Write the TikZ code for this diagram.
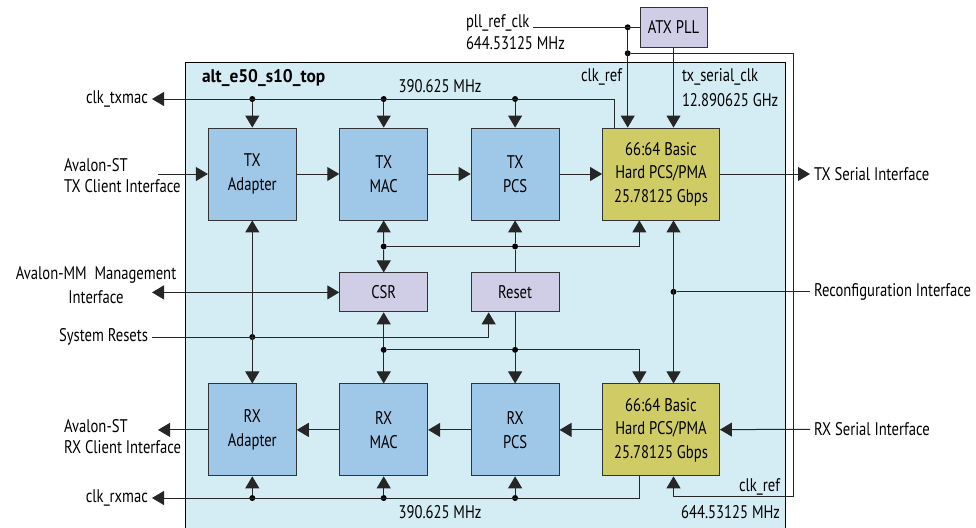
\documentclass[tikz,border=0pt]{standalone}
\usepackage{fontspec}
\setmainfont{PT Sans}[FakeStretch=0.8]
\newfontfamily\titlefont{PT Sans}[FakeStretch=0.95]
\usetikzlibrary{positioning,calc,arrows.meta}

\definecolor{topblue}{HTML}{D4ECF3}
\definecolor{blockblue}{HTML}{9FC7E8}
\definecolor{ctrllilac}{HTML}{D0CDE6}
\definecolor{pmayellow}{HTML}{CFCC66}

\tikzstyle{block} = [draw=black!80, line width=0.9pt, fill=blockblue,%
                     text centered, align=center, inner sep=0pt,%
                     minimum width=88pt, minimum height=92pt]
\tikzstyle{pma}   = [block, fill=pmayellow, minimum width=117pt]
\tikzstyle{ctrl}  = [block, fill=ctrllilac, minimum height=39pt]
\tikzstyle{sig}   = [inner sep=1pt, outer sep=3pt]
\tikzstyle{dot}   = [circle, fill=black, inner sep=0pt, minimum size=6pt]
\tikzstyle{wire}  = [draw=black!85, line width=1pt]

\begin{document}
\begin{tikzpicture}[x=1pt, y=-1pt, >={Triangle[length=12pt,width=14pt]},
    every node/.style={font=\fontsize{18.3}{23.5}\selectfont}]

	\useasboundingbox (0,0) rectangle (976,527);

	% top level
	\node (Top) [draw=black, line width=1pt, fill=topblue, minimum width=600pt, minimum height=478pt] at (485,301) {};
	\node (TopName) [sig, anchor=west, font=\titlefont\bfseries\fontsize{18.3}{23}\selectfont] at (198,78) {alt\_e50\_s10\_top};

	\node (TXAdapter) [block] at (252.3,174) {TX\\Adapter};
	\node (TXMAC) [block, right=42.5pt of TXAdapter] {TX\\MAC};
	\node (TXPCS) [block, right=42.5pt of TXMAC] {TX\\PCS};
	\node (TXPMA) [pma, right=42.5pt of TXPCS] {66:64 Basic\\Hard PCS/PMA\\25.78125 Gbps};

	\node (RXAdapter) [block, below=163pt of TXAdapter] {RX\\Adapter};
	\node (RXMAC) [block, below=163pt of TXMAC] {RX\\MAC};
	\node (RXPCS) [block, below=163pt of TXPCS] {RX\\PCS};
	\node (RXPMA) [pma, below=163pt of TXPMA] {66:64 Basic\\Hard PCS/PMA\\25.78125 Gbps};

	\node (CSR) [ctrl, below=52pt of TXMAC] {CSR};
	\node (Reset) [ctrl, below=52pt of TXPCS] {Reset};
	\node (ATXPLL) [ctrl, minimum width=67pt, minimum height=40pt] at (673.5,27.3) {ATX PLL};

	% signal names
	\node (PllRefClk) [sig, anchor=base west] at (462,27.3) {pll\_ref\_clk};
	\node (PllFreq) [sig, anchor=west] at (462,43) {644.53125 MHz};
	\node (ClkRefTop) [sig, anchor=east] at (626,77) {clk\_ref};
	\node (TxSerialClk) [sig, anchor=west] at (678,77) {tx\_serial\_clk};
	\node (TxSerialFreq) [sig, anchor=west] at (678,100) {12.890625 GHz};
	\node (ClkRefBot) [sig, anchor=east] at (784,487) {clk\_ref};
	\node (RefFreqBot) [sig, anchor=east] at (784,512) {644.53125 MHz};
	\node (FreqTx) [sig] at (440,86) {390.625 MHz};
	\node (FreqRx) [sig] at (440,512) {390.625 MHz};

	\node (clkTxmac) [sig, anchor=east] at (152,99) {clk\_txmac};
	\node (AvalonTX) [sig, anchor=west, align=left, font=\fontsize{18.3}{21}\selectfont] at (60,176) {Avalon-ST\\TX Client Interface};
	\node (AvalonMM) [sig, align=center, font=\fontsize{18.3}{24}\selectfont] at (96,285) {Avalon-MM\ \ Management\\Interface};
	\node (SysResets) [sig, anchor=east] at (152,337) {System Resets};
	\node (AvalonRX) [sig, anchor=west, align=left, font=\fontsize{18.3}{21}\selectfont] at (60,436.5) {Avalon-ST\\RX Client Interface};
	\node (clkRxmac) [sig, anchor=east] at (152,498) {clk\_rxmac};

	\node (TXSerial) [sig, anchor=west] at (810,174) {TX Serial Interface};
	\node (Reconfig) [sig, anchor=west] at (810,291.8) {Reconfiguration Interface};
	\node (RXSerial) [sig, anchor=west] at (810,429) {RX Serial Interface};

	\coordinate (avTxIn) at (TXAdapter.west -| 158,0);
	\coordinate (avMMOut) at (CSR.west -| 152,0);
	\coordinate (avRxOut) at (RXAdapter.west -| 158,0);
	\coordinate (refCorner) at (793.3,496.7);

	% junctions
	\node (pllDot) [dot] at (627.7,27.3) {};
	\node (refDot) [dot] at (627.7,53.3) {};
	\node (txClkA) [dot] at (TXAdapter |- clkTxmac) {};
	\node (txClkB) [dot] at (TXMAC |- clkTxmac) {};
	\node (txClkC) [dot] at (TXPCS |- clkTxmac) {};
	\node (rxClkA) [dot] at (RXAdapter |- clkRxmac) {};
	\node (rxClkB) [dot] at (RXMAC |- clkRxmac) {};
	\node (rxClkC) [dot] at (RXPCS |- clkRxmac) {};
	\node (ctlA) [dot] at ($(TXMAC.south)!.5!(CSR.north)$) {};
	\node (ctlB) [dot] at (TXPCS |- ctlA) {};
	\node (ctlC) [dot] at ([yshift=-37.5pt]CSR.south) {};
	\node (ctlD) [dot] at (Reset |- ctlC) {};
	\node (rstDot) [dot] at (TXAdapter |- SysResets) {};
	\node (cfgDot) [dot] at (ATXPLL |- Reconfig) {};

	% clocks
	\draw[wire] (PllRefClk.base east) -- (ATXPLL.west);
	\draw[wire,->] (pllDot) -- (pllDot |- TXPMA.north);
	\draw[wire,->] (ATXPLL) -- (ATXPLL |- TXPMA.north);
	\draw[wire,->] (refDot) -| (refCorner) -| (ATXPLL |- RXPMA.south);

	\draw[wire,->] ([xshift=12.7pt]TXPMA.north west) |- (clkTxmac.east);
	\draw[wire,->] (txClkA) -- (TXAdapter);
	\draw[wire,->] (txClkB) -- (TXMAC);
	\draw[wire,->] (txClkC) -- (TXPCS);

	\draw[wire,->] ([xshift=37.3pt]RXPMA.south west) |- (clkRxmac.east);
	\draw[wire,->] (rxClkA) -- (RXAdapter);
	\draw[wire,->] (rxClkB) -- (RXMAC);
	\draw[wire,->] (rxClkC) -- (RXPCS);

	% data path
	\draw[wire,->] (avTxIn) -- (TXAdapter);
	\draw[wire,->] (TXAdapter) -- (TXMAC);
	\draw[wire,->] (TXMAC) -- (TXPCS);
	\draw[wire,->] (TXPCS) -- (TXPMA);
	\draw[wire,->] (TXPMA) -- (TXSerial);

	\draw[wire,->] (RXSerial) -- (RXPMA);
	\draw[wire,->] (RXPMA) -- (RXPCS);
	\draw[wire,->] (RXPCS) -- (RXMAC);
	\draw[wire,->] (RXMAC) -- (RXAdapter);
	\draw[wire,->] (RXAdapter) -- (avRxOut);

	% control and resets
	\draw[wire,<->] (avMMOut) -- (CSR);
	\draw[wire,<->] (TXAdapter) -- (RXAdapter);
	\draw[wire,->] (SysResets.east) -| ([xshift=18pt]Reset.south west);

	\draw[wire] (Reset) -- (ctlB);
	\draw[wire,->] (ctlA) -- (TXMAC);
	\draw[wire,->] (ctlA) -- (CSR);
	\draw[wire,->] (ctlB) -- (TXPCS);
	\draw[wire,->] (ctlA) -- (ctlB) -| ([xshift=37.3pt]TXPMA.south west);

	\draw[wire] (Reset) -- (ctlD);
	\draw[wire,->] (ctlC) -- (CSR);
	\draw[wire,->] (ctlC) -- (RXMAC);
	\draw[wire,->] (ctlD) -- (RXPCS);
	\draw[wire,->] (ctlC) -- (ctlD) -| ([xshift=37.3pt]RXPMA.north west);

	\draw[wire,<->] (ATXPLL |- TXPMA.south) -- (ATXPLL |- RXPMA.north);
	\draw[wire] (Reconfig) -- (cfgDot);
\end{tikzpicture}
\end{document}
